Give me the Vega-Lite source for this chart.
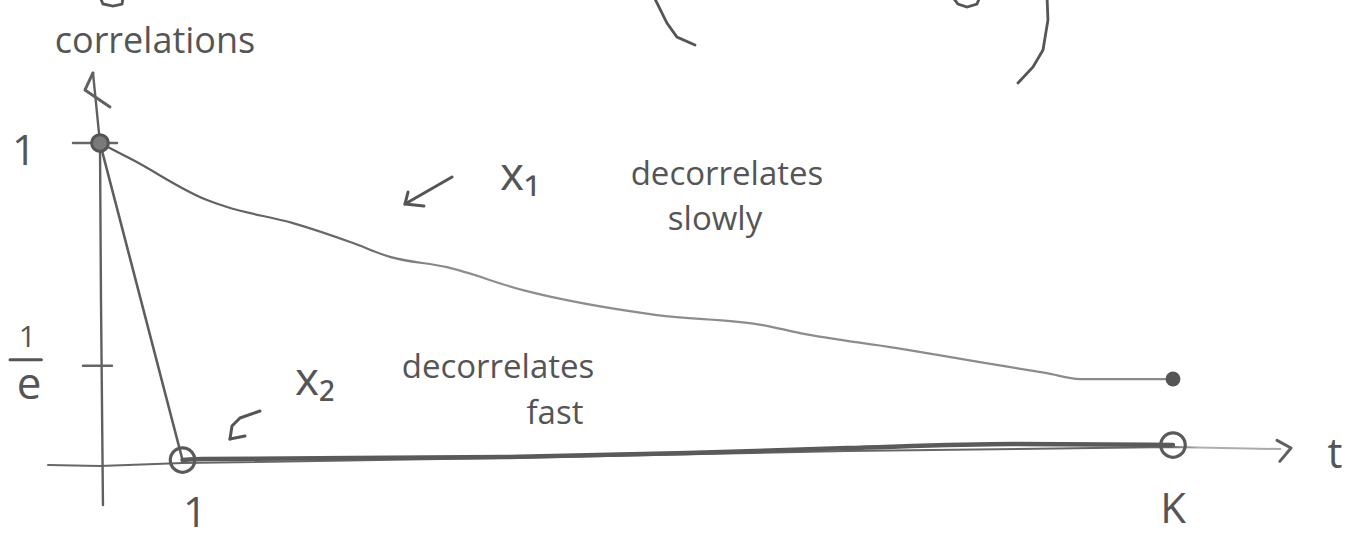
{
  "$schema": "https://vega.github.io/schema/vega-lite/v6.json",
  "width": 1372,
  "height": 539,
  "autosize": {"type": "fit", "contains": "padding"},
  "padding": 0,
  "background": "white",
  "config": {"view": {"stroke": null}},
  "datasets": {
    "xAxis": [
      {"t": -0.63, "r": -0.0141},
      {"t": 0, "r": -0.0198},
      {"t": 1.006, "r": 0},
      {"t": 4.882, "r": 0.0304},
      {"t": 9.05, "r": 0.0634},
      {"t": 13.0, "r": 0.0807},
      {"t": 14.3, "r": 0.0721}
    ],
    "yAxis": [
      {"t": 0.036, "r": -0.1815},
      {"t": 0.012, "r": 0.567},
      {"t": 0, "r": 1},
      {"t": -0.085, "r": 1.181}
    ],
    "ticks": [
      {"t": -0.327, "t2": 0.206, "r": 1},
      {"t": -0.206, "t2": 0.145, "r": 0.3679}
    ],
    "x1": [
      {"t": 0, "r": 1},
      {"t": 0.4, "r": 0.955},
      {"t": 1.296, "r": 0.848},
      {"t": 1.539, "r": 0.829},
      {"t": 2.338, "r": 0.785},
      {"t": 3.065, "r": 0.73},
      {"t": 3.513, "r": 0.691},
      {"t": 4.204, "r": 0.662},
      {"t": 5.125, "r": 0.596},
      {"t": 6.748, "r": 0.523},
      {"t": 8.032, "r": 0.493},
      {"t": 8.481, "r": 0.469},
      {"t": 9.656, "r": 0.423},
      {"t": 10.661, "r": 0.379},
      {"t": 11.473, "r": 0.344},
      {"t": 11.873, "r": 0.325},
      {"t": 13.0, "r": 0.325}
    ],
    "x2drop": [
      {"t": 0, "r": 1},
      {"t": 1, "r": 0.0198}
    ],
    "x2flat": [
      {"t": 1, "r": 0.0198},
      {"t": 1.248, "r": 0.0252},
      {"t": 4.882, "r": 0.0354},
      {"t": 7.112, "r": 0.0543},
      {"t": 9.05, "r": 0.0764},
      {"t": 11.061, "r": 0.0932},
      {"t": 13.0, "r": 0.0891}
    ],
    "points": [
      {"series": "start", "t": 0, "r": 1},
      {"series": "x2", "t": 1, "r": 0.0198},
      {"series": "x2", "t": 13, "r": 0.0891},
      {"series": "x1", "t": 13, "r": 0.325}
    ],
    "labels": [
      {"role": "axis", "t": 0.666, "r": 1.259, "text": "correlations"},
      {"role": "tick", "t": -0.92, "r": 0.976, "text": "1"},
      {"role": "tick", "t": 1.15, "r": -0.213, "text": "1"},
      {"role": "tick", "t": 13.0, "r": -0.1995, "text": "K"},
      {"role": "tick", "t": 14.962, "r": 0.045, "text": "t"},
      {"role": "note", "t": 7.596, "r": 0.9153, "text": "decorrelates"},
      {"role": "note", "t": 7.451, "r": 0.7933, "text": "slowly"},
      {"role": "note", "t": 4.822, "r": 0.3604, "text": "decorrelates"},
      {"role": "note", "t": 5.512, "r": 0.2062, "text": "fast"},
      {"role": "var", "t": 5.088, "r": 0.9126, "text": "x₁"},
      {"role": "var", "t": 2.605, "r": 0.3185, "text": "x₂"}
    ],
    "pointers": [
      {"id": "a1-shaft", "t": 4.265, "r": 0.9099},
      {"id": "a1-shaft", "t": 3.695, "r": 0.8372},
      {"id": "a1-head", "t": 3.732, "r": 0.8696},
      {"id": "a1-head", "t": 3.695, "r": 0.8372},
      {"id": "a1-head", "t": 3.925, "r": 0.8318},
      {"id": "a2-shaft", "t": 1.938, "r": 0.2172},
      {"id": "a2-shaft", "t": 1.696, "r": 0.1924},
      {"id": "a2-shaft", "t": 1.599, "r": 0.1632},
      {"id": "a2-shaft", "t": 1.575, "r": 0.1134},
      {"id": "a2-barb", "t": 1.575, "r": 0.1134},
      {"id": "a2-barb", "t": 1.757, "r": 0.1252}
    ],
    "topStrokes": [
      {"id": "paren-left", "t": 6.7, "r": 1.3764},
      {"id": "paren-left", "t": 6.869, "r": 1.3068},
      {"id": "paren-left", "t": 6.99, "r": 1.2718},
      {"id": "paren-left", "t": 7.209, "r": 1.2517},
      {"id": "paren-right", "t": 11.473, "r": 1.3764},
      {"id": "paren-right", "t": 11.485, "r": 1.3143},
      {"id": "paren-right", "t": 11.425, "r": 1.2391},
      {"id": "paren-right", "t": 11.304, "r": 1.1961},
      {"id": "paren-right", "t": 11.122, "r": 1.1554},
      {"id": "g-tail", "t": 10.31, "r": 1.3764},
      {"id": "g-tail", "t": 10.395, "r": 1.3541},
      {"id": "g-tail", "t": 10.504, "r": 1.3467},
      {"id": "g-tail", "t": 10.625, "r": 1.3541},
      {"id": "g-tail", "t": 10.67, "r": 1.3764},
      {"id": "l-tail", "t": -0.01, "r": 1.3764},
      {"id": "l-tail", "t": 0.036, "r": 1.3541},
      {"id": "l-tail", "t": 0.158, "r": 1.3491},
      {"id": "l-tail", "t": 0.267, "r": 1.3541},
      {"id": "l-tail", "t": 0.285, "r": 1.3764}
    ]
  },
  "encoding": {
    "x": {
      "field": "t",
      "type": "quantitative",
      "scale": {"domain": [-1.2115, 15.411], "nice": false, "zero": false},
      "axis": null
    },
    "y": {
      "field": "r",
      "type": "quantitative",
      "scale": {"type": "pow", "exponent": 1.19, "domain": [-0.2986, 1.364], "nice": false, "zero": false},
      "axis": null
    }
  },
  "layer": [
    {
      "data": {"name": "xAxis"},
      "mark": {
        "type": "line",
        "strokeWidth": 2,
        "strokeCap": "round",
        "color": {
          "gradient": "linear",
          "stops": [
            {"offset": 0, "color": "#666666"},
            {"offset": 0.91, "color": "#666666"},
            {"offset": 0.935, "color": "#b0b0b0"},
            {"offset": 1, "color": "#a8a8a8"}
          ]
        }
      },
      "encoding": {"order": {"value": null}}
    },
    {
      "data": {"name": "yAxis"},
      "mark": {"type": "line", "strokeWidth": 2.4, "color": "#606060", "strokeCap": "round"},
      "encoding": {"order": {"value": null}}
    },
    {
      "data": {"values": [{"t": -0.085, "r": 1.181}]},
      "mark": {"type": "point", "shape": "M0,0L-0.4,0.85L0.85,1.7", "size": 1600, "filled": false, "stroke": "#606060", "strokeWidth": 3, "strokeCap": "round", "strokeJoin": "round", "opacity": 1}
    },
    {
      "data": {"values": [{"t": 14.43, "r": 0.0764}]},
      "mark": {"type": "point", "shape": "M-1,-0.55L0,0L-0.8,0.95", "size": 784, "filled": false, "stroke": "#606060", "strokeWidth": 3, "strokeCap": "round", "strokeJoin": "round", "opacity": 1}
    },
    {
      "data": {"name": "ticks"},
      "mark": {"type": "rule", "strokeWidth": 2.5, "color": "#666666", "strokeCap": "round"},
      "encoding": {"x2": {"field": "t2"}}
    },
    {
      "data": {"name": "x1"},
      "mark": {
        "type": "line",
        "interpolate": "monotone",
        "strokeWidth": 2.2,
        "strokeCap": "round",
        "color": {
          "gradient": "linear",
          "stops": [
            {"offset": 0, "color": "#5c5c5c"},
            {"offset": 0.24, "color": "#6a6a6a"},
            {"offset": 0.33, "color": "#8e8e8e"},
            {"offset": 1, "color": "#8a8a8a"}
          ]
        }
      }
    },
    {
      "data": {"name": "x2drop"},
      "mark": {"type": "line", "strokeWidth": 2.6, "color": "#5e5e5e", "strokeCap": "round"}
    },
    {
      "data": {"name": "x2flat"},
      "mark": {"type": "line", "interpolate": "monotone", "strokeWidth": 4.5, "color": "#5a5a5a", "strokeCap": "round"}
    },
    {
      "data": {"name": "points"},
      "transform": [{"filter": "datum.series === 'start'"}],
      "mark": {"type": "point", "shape": "circle", "size": 280, "filled": true, "fill": "#7a7a7a", "stroke": "#555555", "strokeWidth": 3, "opacity": 1}
    },
    {
      "data": {"name": "points"},
      "transform": [{"filter": "datum.series === 'x2'"}],
      "mark": {"type": "point", "shape": "circle", "size": 600, "filled": false, "stroke": "#5a5a5a", "strokeWidth": 3.2, "opacity": 1}
    },
    {
      "data": {"name": "points"},
      "transform": [{"filter": "datum.series === 'x1'"}],
      "mark": {"type": "point", "shape": "circle", "size": 220, "filled": true, "fill": "#555555", "opacity": 1}
    },
    {
      "data": {"name": "labels"},
      "transform": [{"filter": "datum.role === 'axis'"}],
      "mark": {"type": "text", "font": "Open Sans", "fontSize": 36, "fill": "#555555", "align": "center", "baseline": "middle"},
      "encoding": {"text": {"field": "text"}}
    },
    {
      "data": {"name": "labels"},
      "transform": [{"filter": "datum.role === 'tick'"}],
      "mark": {"type": "text", "font": "Open Sans", "fontSize": 42, "fill": "#555555", "align": "center", "baseline": "middle"},
      "encoding": {"text": {"field": "text"}}
    },
    {
      "data": {"name": "labels"},
      "transform": [{"filter": "datum.role === 'note'"}],
      "mark": {"type": "text", "font": "Open Sans", "fontSize": 33, "fill": "#555555", "align": "center", "baseline": "middle"},
      "encoding": {"text": {"field": "text"}}
    },
    {
      "data": {"name": "labels"},
      "transform": [{"filter": "datum.role === 'var'"}],
      "mark": {"type": "text", "font": "Open Sans", "fontSize": 46, "fill": "#555555", "align": "center", "baseline": "middle"},
      "encoding": {"text": {"field": "text"}}
    },
    {
      "data": {"values": [{"t": -0.88, "r": 0.3679, "text": "1"}]},
      "mark": {"type": "text", "font": "Open Sans", "fontSize": 30, "fill": "#555555", "align": "center", "baseline": "middle", "dy": -28},
      "encoding": {"text": {"field": "text"}}
    },
    {
      "data": {"values": [{"t": -1.09, "t2": -0.71, "r": 0.3679}]},
      "mark": {"type": "rule", "strokeWidth": 3, "color": "#555555", "strokeCap": "round", "yOffset": -6},
      "encoding": {"x2": {"field": "t2"}}
    },
    {
      "data": {"values": [{"t": -0.86, "r": 0.3679, "text": "e"}]},
      "mark": {"type": "text", "font": "Open Sans", "fontSize": 44, "fill": "#555555", "align": "center", "baseline": "middle", "dy": 20},
      "encoding": {"text": {"field": "text"}}
    },
    {
      "data": {"name": "pointers"},
      "mark": {"type": "line", "strokeWidth": 3, "color": "#555555", "strokeCap": "round", "strokeJoin": "round"},
      "encoding": {"detail": {"field": "id"}, "order": {"value": null}}
    },
    {
      "data": {"name": "topStrokes"},
      "mark": {"type": "line", "strokeWidth": 2.8, "color": "#555555", "strokeCap": "round", "clip": true},
      "encoding": {"detail": {"field": "id"}, "order": {"value": null}}
    }
  ]
}
